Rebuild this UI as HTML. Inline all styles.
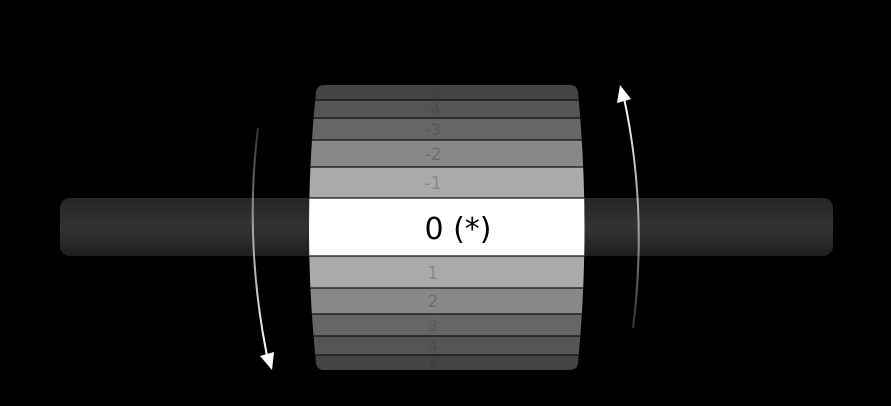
<!DOCTYPE html>
<html><head><meta charset="utf-8"><style>
html,body{margin:0;padding:0;background:#000;}
svg{display:block;}
text{font-family:"DejaVu Sans","Liberation Sans",sans-serif;text-anchor:middle;}
</style></head><body>
<svg width="891" height="406" viewBox="0 0 891 406" xmlns="http://www.w3.org/2000/svg">
<defs>
<linearGradient id="bar" x1="0" y1="0" x2="0" y2="1">
<stop offset="0" stop-color="#262626"/>
<stop offset="0.5" stop-color="#333"/>
<stop offset="1" stop-color="#1f1f1f"/>
</linearGradient>
<clipPath id="drum">
<path d="M324,85 L570,85 Q577,85 578,92 Q591,228 578,363 Q577,370 570,370 L324,370 Q317,370 316,363 Q302,228 316,92 Q317,85 324,85 Z"/>
</clipPath>
<linearGradient id="la" x1="0" y1="0" x2="0" y2="1">
<stop offset="0" stop-color="#fff" stop-opacity="0.2"/>
<stop offset="1" stop-color="#fff" stop-opacity="1"/>
</linearGradient>
<linearGradient id="ra" x1="0" y1="1" x2="0" y2="0">
<stop offset="0" stop-color="#fff" stop-opacity="0.2"/>
<stop offset="1" stop-color="#fff" stop-opacity="1"/>
</linearGradient>
</defs>
<rect x="60" y="198" width="773" height="58" rx="10" fill="url(#bar)"/>
<g clip-path="url(#drum)">
<rect x="290" y="85" width="310" height="15" fill="#444"/>
<rect x="290" y="100" width="310" height="18" fill="#555"/>
<rect x="290" y="118" width="310" height="22" fill="#666"/>
<rect x="290" y="140" width="310" height="27" fill="#888"/>
<rect x="290" y="167" width="310" height="31" fill="#aaa"/>
<rect x="290" y="198" width="310" height="58" fill="#fff"/>
<rect x="290" y="256" width="310" height="32" fill="#aaa"/>
<rect x="290" y="288" width="310" height="26" fill="#888"/>
<rect x="290" y="314" width="310" height="22" fill="#666"/>
<rect x="290" y="336" width="310" height="19" fill="#555"/>
<rect x="290" y="355" width="310" height="15" fill="#444"/>
<g stroke="#111" stroke-width="1.3">
<line x1="290" y1="100" x2="600" y2="100"/>
<line x1="290" y1="118" x2="600" y2="118"/>
<line x1="290" y1="140" x2="600" y2="140"/>
<line x1="290" y1="167" x2="600" y2="167"/>
<line x1="290" y1="198" x2="600" y2="198"/>
<line x1="290" y1="256" x2="600" y2="256"/>
<line x1="290" y1="288" x2="600" y2="288"/>
<line x1="290" y1="314" x2="600" y2="314"/>
<line x1="290" y1="336" x2="600" y2="336"/>
<line x1="290" y1="355" x2="600" y2="355"/>
</g>
<text x="433" y="98" font-size="12" fill="#3c3c3c">-5</text>
<text x="433" y="114" font-size="14" fill="#4a4a4a">-4</text>
<text x="433" y="135" font-size="16" fill="#585858">-3</text>
<text x="433" y="160" font-size="17" fill="#6c6c6c">-2</text>
<text x="433" y="189" font-size="18" fill="#888">-1</text>
<text x="458" y="239" font-size="30" fill="#000">0 (*)</text>
<text x="433" y="279" font-size="18" fill="#888">1</text>
<text x="433" y="307" font-size="17" fill="#6c6c6c">2</text>
<text x="433" y="331" font-size="16" fill="#585858">3</text>
<text x="433" y="351" font-size="14" fill="#4a4a4a">4</text>
<text x="433" y="368" font-size="12" fill="#3c3c3c">5</text>
</g>
<path d="M258,128 Q244,240 267,356" fill="none" stroke="url(#la)" stroke-width="2"/>
<polygon points="272,370 260,356 274,352" fill="#fff"/>
<path d="M633,328 Q648,210 624,98" fill="none" stroke="url(#ra)" stroke-width="2"/>
<polygon points="620,85 617,103 631,99" fill="#fff"/>
</svg>
</body></html>
